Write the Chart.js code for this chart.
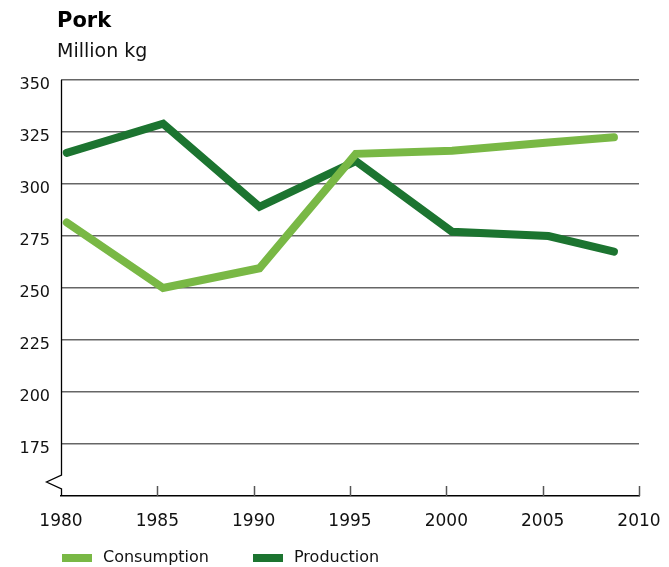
<!DOCTYPE html>
<html>
<head>
<meta charset="utf-8">
<script src="https://cdn.jsdelivr.net/npm/chart.js@4/dist/chart.umd.min.js"></script>
<style>
  html, body { margin: 0; padding: 0; background: #fff; }
  #wrap { width: 669px; height: 567px; position: relative; }
</style>
</head>
<body>
<div id="wrap"><canvas id="chart" width="669" height="567"></canvas></div>
<script>
// pork, million kg
var years = [1980.3, 1985.3, 1990.3, 1995.3, 2000.3, 2005.3, 2008.7];
var consumption = [281.5, 250, 259.5, 314.5, 316, 320, 322.5];
var production = [315, 329, 289, 311, 277, 275, 267.5];
var xTicks = [1980, 1985, 1990, 1995, 2000, 2005, 2010];
var yTicks = [175, 200, 225, 250, 275, 300, 325, 350];

var FONT = '"DejaVu Sans", sans-serif';
var lightGreen = '#79b845';
var darkGreen = '#1c7430';

function toPoints(values) {
    return values.map(function (v, i) { return { x: years[i], y: v }; });
}

// title, broken y axis, inward x ticks and the legend
var decorations = {
    id: 'decorations',
    afterDraw: function (chart) {
        var ctx = chart.ctx;
        var area = chart.chartArea;
        var xs = chart.scales.x;

        ctx.save();
        ctx.fillStyle = '#000';
        ctx.textAlign = 'left';
        ctx.textBaseline = 'alphabetic';
        ctx.font = 'bold 21px ' + FONT;
        ctx.fillText('Pork', 57, 27);
        ctx.font = '19px ' + FONT;
        ctx.fillStyle = '#111';
        ctx.fillText('Million kg', 57, 57);

        // y axis with a break near the bottom
        var x0 = Math.round(area.left) + 0.5;
        ctx.strokeStyle = '#000';
        ctx.lineWidth = 1.3;
        ctx.beginPath();
        ctx.moveTo(x0, area.top);
        ctx.lineTo(x0, area.bottom - 21);
        ctx.lineTo(x0 - 15, area.bottom - 14);
        ctx.lineTo(x0, area.bottom - 7);
        ctx.lineTo(x0, area.bottom);
        ctx.stroke();

        // tick marks pointing into the plot
        ctx.strokeStyle = '#555';
        ctx.lineWidth = 1.5;
        xTicks.slice(1).forEach(function (t) {
            var px = Math.round(xs.getPixelForValue(t)) + 0.5;
            ctx.beginPath();
            ctx.moveTo(px, area.bottom);
            ctx.lineTo(px, area.bottom - 10);
            ctx.stroke();
        });

        // legend
        var legendX = [62, 253];
        ctx.font = '16px ' + FONT;
        ctx.textBaseline = 'middle';
        chart.data.datasets.forEach(function (ds, i) {
            ctx.fillStyle = ds.borderColor;
            ctx.fillRect(legendX[i], 554, 30, 8);
            ctx.fillStyle = '#111';
            ctx.fillText(ds.label, legendX[i] + 41, 558);
        });
        ctx.restore();
    }
};

new Chart(document.getElementById('chart'), {
    type: 'line',
    data: {
        datasets: [{
            label: 'Consumption',
            data: toPoints(consumption),
            borderColor: lightGreen,
            backgroundColor: lightGreen,
            borderWidth: 8,
            borderCapStyle: 'round',
            borderJoinStyle: 'miter',
            pointRadius: 0,
            tension: 0
        }, {
            label: 'Production',
            data: toPoints(production),
            borderColor: darkGreen,
            backgroundColor: darkGreen,
            borderWidth: 8,
            borderCapStyle: 'round',
            borderJoinStyle: 'miter',
            pointRadius: 0,
            tension: 0
        }]
    },
    options: {
        responsive: false,
        animation: false,
        layout: { padding: { top: 80, right: 30, left: 0, bottom: 0 } },
        plugins: {
            legend: { display: false },
            title: { display: false },
            tooltip: { enabled: false }
        },
        scales: {
            x: {
                type: 'linear',
                min: 1980,
                max: 2010,
                afterBuildTicks: function (scale) {
                    scale.ticks = xTicks.map(function (v) { return { value: v }; });
                },
                afterFit: function (scale) {
                    scale.height = 71;
                    scale.paddingLeft = 0;
                    scale.paddingRight = 0;
                },
                grid: { display: false, drawTicks: false },
                border: { display: true, color: '#000', width: 1.5 },
                ticks: {
                    padding: 15,
                    color: '#111',
                    font: { family: FONT, size: 17 },
                    maxRotation: 0,
                    callback: function (v) { return String(v); }
                }
            },
            y: {
                min: 150,
                max: 350,
                afterBuildTicks: function (scale) {
                    scale.ticks = yTicks.map(function (v) { return { value: v }; });
                },
                afterFit: function (scale) { scale.width = 61; },
                grid: {
                    drawTicks: false,
                    color: '#666',
                    lineWidth: 1.5
                },
                border: { display: false },
                ticks: {
                    padding: 11,
                    labelOffset: 5,
                    color: '#111',
                    font: { family: FONT, size: 16 }
                }
            }
        }
    },
    plugins: [decorations]
});
</script>
</body>
</html>
